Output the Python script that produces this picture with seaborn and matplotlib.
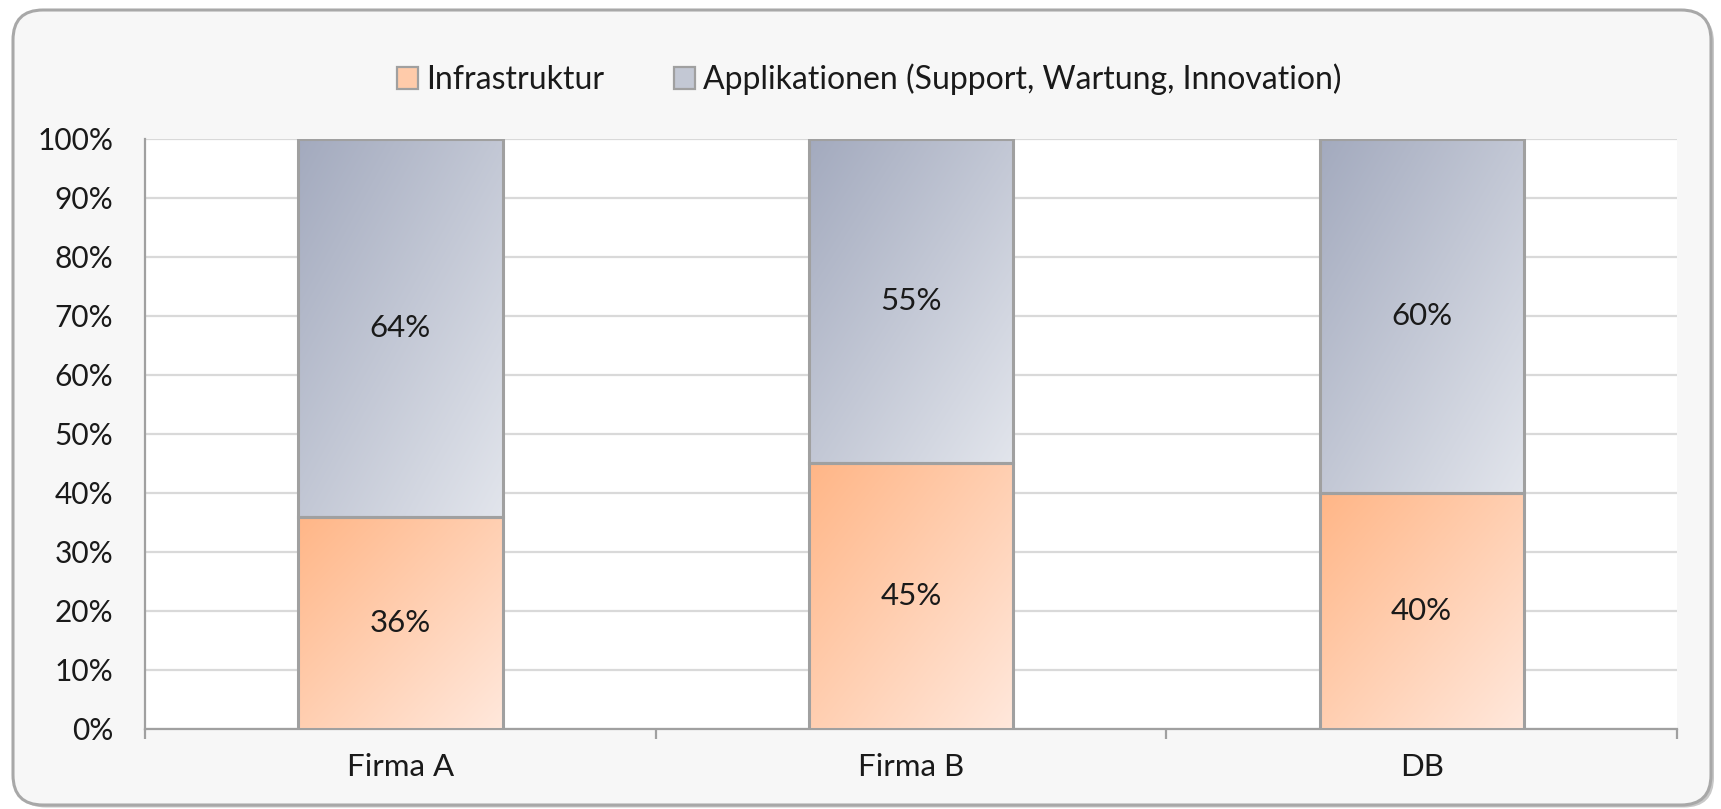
import numpy as np
import pandas as pd
import matplotlib
matplotlib.use("Agg")
import matplotlib.pyplot as plt
import seaborn as sns
from matplotlib.colors import LinearSegmentedColormap
from matplotlib.patches import Patch, FancyBboxPatch

categories = ["Firma A", "Firma B", "DB"]
infrastruktur = [36, 45, 40]
applikationen = [64, 55, 60]
yticks = [0, 10, 20, 30, 40, 50, 60, 70, 80, 90, 100]
series_names = ["Infrastruktur", "Applikationen (Support, Wartung, Innovation)"]

sns.set_theme(style="white")
plt.rcParams["font.family"] = ["Lato", "DejaVu Sans"]

df = pd.DataFrame({"cat": categories,
                   "infra": infrastruktur,
                   "total": np.array(infrastruktur) + np.array(applikationen)})

fig = plt.figure(figsize=(17.21, 8.09), dpi=100, facecolor="white")

# rounded chart frame with soft shadow
shadow = FancyBboxPatch((0.16, 0.015), 16.98, 7.95,
                        boxstyle="round,pad=0,rounding_size=0.3",
                        transform=fig.dpi_scale_trans, facecolor="#c8c8c8",
                        edgecolor="none", zorder=-3)
fig.patches.append(shadow)
frame = FancyBboxPatch((0.13, 0.04), 16.98, 7.95,
                       boxstyle="round,pad=0,rounding_size=0.3",
                       transform=fig.dpi_scale_trans, facecolor="#f7f7f7",
                       edgecolor="#a8a8a8", linewidth=2.2, zorder=-2)
fig.patches.append(frame)

ax = fig.add_axes([0.0843, 0.0989, 0.8901, 0.7293])
ax.set_facecolor("white")

grey_mid = "#c3c8d4"
orange_mid = "#ffcbaa"
sns.barplot(data=df, x="cat", y="total", color=grey_mid, width=0.4,
            saturation=1, ax=ax, zorder=2)
sns.barplot(data=df, x="cat", y="infra", color=orange_mid, width=0.4,
            saturation=1, ax=ax, zorder=3)

cmap_grey = LinearSegmentedColormap.from_list("g", ["#a3aabe", "#e2e5ec"])
cmap_orange = LinearSegmentedColormap.from_list("o", ["#ffb687", "#ffe8dc"])

n = len(categories)
patches = list(ax.patches)
u = np.linspace(0, 1, 200)
v = np.linspace(0, 1, 200)
U, V = np.meshgrid(u, v)
grad = (U + V) / 2.0  # row 0 = top when origin='upper'

for i, p in enumerate(patches):
    is_infra = i >= n
    x0, y0 = p.get_x(), p.get_y()
    w, h = p.get_width(), p.get_height()
    if not is_infra:
        idx = i
        y0 = infrastruktur[idx]
        h = applikationen[idx]
        p.set_y(y0)
        p.set_height(h)
    cmap = cmap_orange if is_infra else cmap_grey
    im = ax.imshow(grad, cmap=cmap, extent=[x0, x0 + w, y0, y0 + h],
                   origin="upper", aspect="auto", zorder=2.5 if not is_infra else 3.5,
                   interpolation="bilinear")
    im.set_clip_path(p)
    p.set_facecolor("none")
    p.set_edgecolor("#a0a0a0")
    p.set_linewidth(2.2)
    p.set_zorder(4)

# value labels
for i in range(n):
    ax.text(i, infrastruktur[i] / 2, f"{infrastruktur[i]}%", ha="center",
            va="center", fontsize=22.5, color="#1a1a1a", zorder=5)
    ax.text(i, infrastruktur[i] + applikationen[i] / 2, f"{applikationen[i]}%",
            ha="center", va="center", fontsize=22.5, color="#1a1a1a", zorder=5)

ax.set_xlim(-0.5, n - 0.5)
ax.set_ylim(0, 100)
ax.set_yticks(yticks)
ax.set_yticklabels([f"{t}%" for t in yticks])
ax.yaxis.grid(True, color="#d9d9d9", linewidth=1.6, zorder=0)
ax.set_axisbelow(True)
ax.set_xlabel("")
ax.set_ylabel("")

for s in ["top", "right"]:
    ax.spines[s].set_visible(False)
for s in ["left", "bottom"]:
    ax.spines[s].set_color("#a0a0a0")
    ax.spines[s].set_linewidth(1.6)

ax.tick_params(axis="y", length=0, pad=23, labelsize=21.5, labelcolor="#1a1a1a")
ax.tick_params(axis="x", which="major", length=0, pad=17, labelsize=22.5,
               labelcolor="#1a1a1a")
ax.set_xticks(np.arange(-0.5, n, 1.0), minor=True)
ax.tick_params(axis="x", which="minor", length=7, width=1.6, color="#a0a0a0",
               direction="out", bottom=True)

handles = [Patch(facecolor=orange_mid, edgecolor="#a0a0a0", linewidth=1.6),
           Patch(facecolor=grey_mid, edgecolor="#a0a0a0", linewidth=1.6)]
fig.legend(handles, series_names, loc="center", bbox_to_anchor=(0.505, 0.902),
           ncol=2, frameon=False, fontsize=23, handlelength=0.65,
           handleheight=0.65, handletextpad=0.25, columnspacing=2.2,
           labelcolor="#1a1a1a")

fig.savefig("out.png", dpi=100, facecolor="white")
